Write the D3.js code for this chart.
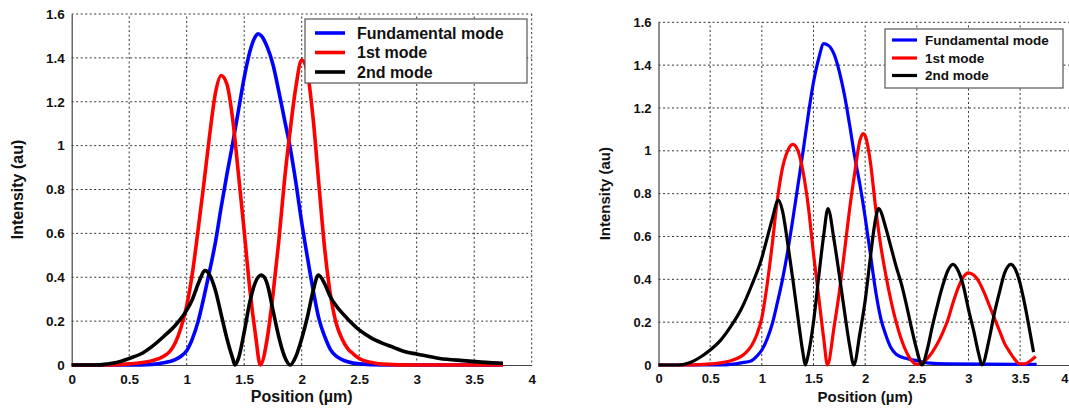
<!DOCTYPE html>
<html>
<head>
<meta charset="utf-8">
<script src="https://cdn.jsdelivr.net/npm/d3@7"></script>
<style>
  body { margin: 0; background: #fff; }
  text { font-family: "Liberation Sans", Arial, sans-serif; font-weight: bold; fill: #111; }
</style>
</head>
<body>
<div id="vis"></div>
<script>
var width = 1069;
var height = 408;

// tick values and labels (shared by both panels)
var xTicks = [0, 0.5, 1, 1.5, 2, 2.5, 3, 3.5, 4];
var xTickLabels = ["0", "0.5", "1", "1.5", "2", "2.5", "3", "3.5", "4"];
var yTicks = [0, 0.2, 0.4, 0.6, 0.8, 1, 1.2, 1.4, 1.6];
var yTickLabels = ["0", "0.2", "0.4", "0.6", "0.8", "1", "1.2", "1.4", "1.6"];

var seriesNames = ["Fundamental mode", "1st mode", "2nd mode"];
var seriesColors = ["#0000ff", "#ff0000", "#000000"];

// left panel: [position (um), intensity (au)]
var leftFund = [[0,0],[0.5,0],[0.7,0.003],[0.8,0.01],[0.9,0.025],[0.95,0.04],[1.0,0.065],[1.05,0.12],[1.1,0.2],[1.15,0.31],[1.2,0.43],
  [1.25,0.56],[1.3,0.72],[1.35,0.87],[1.4,1.01],[1.45,1.16],[1.5,1.31],[1.55,1.43],[1.6,1.5],[1.62,1.51],[1.65,1.5],[1.7,1.45],
  [1.75,1.37],[1.8,1.25],[1.85,1.12],[1.9,0.99],[1.95,0.83],[2.0,0.65],[2.05,0.49],[2.1,0.34],[2.15,0.21],[2.2,0.13],
  [2.25,0.07],[2.3,0.04],[2.35,0.025],[2.4,0.015],[2.5,0.005],[2.7,0],[3.75,0]];
var leftFirst = [[0,0],[0.3,0],[0.5,0.005],[0.6,0.01],[0.7,0.02],[0.8,0.04],[0.85,0.06],[0.9,0.1],[0.95,0.17],[1.0,0.27],
  [1.05,0.42],[1.1,0.62],[1.15,0.83],[1.2,1.05],[1.25,1.24],[1.3,1.32],[1.35,1.28],[1.4,1.12],[1.45,0.87],[1.5,0.61],
  [1.55,0.34],[1.6,0.13],[1.64,0],[1.7,0.12],[1.75,0.32],[1.8,0.56],[1.85,0.84],[1.9,1.07],[1.95,1.27],[2.0,1.39],
  [2.05,1.33],[2.1,1.12],[2.15,0.82],[2.2,0.53],[2.25,0.32],[2.3,0.19],[2.35,0.12],[2.4,0.075],[2.45,0.05],[2.5,0.03],
  [2.6,0.012],[2.7,0.004],[3.0,0],[3.75,0]];
var leftSecond = [[0,0],[0.2,0],[0.3,0.004],[0.4,0.012],[0.5,0.03],[0.6,0.05],[0.7,0.085],[0.8,0.13],[0.9,0.18],[1.0,0.25],
  [1.05,0.3],[1.1,0.37],[1.16,0.43],[1.2,0.41],[1.25,0.34],[1.3,0.23],[1.35,0.12],[1.4,0.03],[1.42,0],[1.45,0.03],
  [1.5,0.15],[1.55,0.29],[1.6,0.38],[1.65,0.41],[1.7,0.37],[1.75,0.25],[1.8,0.13],[1.85,0.04],[1.9,0],[1.95,0.04],
  [2.0,0.12],[2.05,0.22],[2.1,0.34],[2.145,0.41],[2.2,0.37],[2.25,0.31],[2.3,0.27],[2.4,0.21],[2.5,0.16],[2.6,0.125],
  [2.7,0.1],[2.8,0.08],[2.9,0.06],[3.0,0.05],[3.2,0.03],[3.4,0.02],[3.6,0.012],[3.75,0.008]];

// right panel
var rightFund = [[0,0],[0.6,0],[0.7,0.003],[0.8,0.01],[0.9,0.02],[0.95,0.04],[1.0,0.07],[1.05,0.12],[1.1,0.19],[1.15,0.29],
  [1.2,0.4],[1.25,0.53],[1.3,0.68],[1.35,0.84],[1.4,1.0],[1.45,1.17],[1.5,1.32],[1.55,1.43],[1.6,1.5],[1.65,1.49],
  [1.7,1.45],[1.75,1.37],[1.8,1.26],[1.85,1.12],[1.9,0.97],[1.95,0.84],[2.0,0.69],[2.05,0.52],[2.1,0.35],[2.15,0.22],
  [2.2,0.14],[2.25,0.08],[2.3,0.05],[2.4,0.03],[2.5,0.02],[2.6,0.01],[2.8,0.005],[3.66,0.003]];
var rightFirst = [[0,0],[0.3,0],[0.5,0.005],[0.6,0.01],[0.7,0.02],[0.8,0.04],[0.85,0.06],[0.9,0.09],[0.95,0.14],[1.0,0.22],
  [1.05,0.37],[1.1,0.56],[1.15,0.77],[1.2,0.92],[1.25,1.0],[1.3,1.03],[1.35,1.0],[1.4,0.9],[1.45,0.74],[1.5,0.52],
  [1.55,0.32],[1.6,0.12],[1.635,0],[1.7,0.18],[1.75,0.34],[1.8,0.53],[1.85,0.73],[1.9,0.9],[1.95,1.05],[1.98,1.08],
  [2.0,1.07],[2.05,0.95],[2.1,0.74],[2.15,0.56],[2.2,0.42],[2.25,0.3],[2.3,0.2],[2.35,0.12],[2.4,0.06],[2.45,0.02],
  [2.5,0.003],[2.55,0.01],[2.6,0.03],[2.65,0.06],[2.7,0.1],[2.75,0.15],[2.8,0.21],[2.85,0.29],[2.9,0.36],[2.95,0.41],
  [3.0,0.43],[3.05,0.42],[3.1,0.39],[3.15,0.34],[3.2,0.28],[3.25,0.22],[3.3,0.16],[3.35,0.1],[3.4,0.06],[3.45,0.025],
  [3.5,0.005],[3.55,0.005],[3.6,0.02],[3.65,0.04]];
var rightSecond = [[0,0],[0.2,0],[0.3,0.01],[0.4,0.035],[0.5,0.07],[0.6,0.115],[0.7,0.18],[0.8,0.26],[0.9,0.37],[1.0,0.5],
  [1.05,0.59],[1.1,0.68],[1.16,0.77],[1.2,0.72],[1.25,0.57],[1.3,0.4],[1.35,0.22],[1.4,0.05],[1.42,0],[1.45,0.05],
  [1.5,0.2],[1.55,0.41],[1.6,0.61],[1.64,0.73],[1.7,0.58],[1.75,0.42],[1.8,0.25],[1.85,0.09],[1.89,0],[1.95,0.15],
  [2.0,0.3],[2.05,0.5],[2.1,0.68],[2.13,0.73],[2.2,0.64],[2.25,0.55],[2.3,0.46],[2.35,0.38],[2.4,0.28],[2.45,0.17],
  [2.5,0.07],[2.55,0],[2.6,0.07],[2.65,0.18],[2.7,0.28],[2.75,0.37],[2.8,0.44],[2.85,0.47],[2.9,0.44],[2.95,0.37],
  [3.0,0.26],[3.05,0.16],[3.1,0.05],[3.13,0],[3.2,0.12],[3.25,0.24],[3.3,0.34],[3.35,0.43],[3.41,0.47],[3.45,0.45],
  [3.5,0.38],[3.55,0.27],[3.6,0.14],[3.63,0.06]];

var svg = d3.select("#vis")
  .append("svg")
  .attr("width", width)
  .attr("height", height)
  .style("background-color", "white");

var panels = [
  { x0: 71.7, x1: 531.7, y0: 365, y1: 14, lw: 3.6, tickFont: 13.5, labelFont: 16, yLabelX: 17,
    series: [leftFund, leftFirst, leftSecond],
    legend: { x: 305, y: 19, w: 222, h: 64, rows: [33, 52.5, 72], lx0: 315, lx1: 345, tx: 357, font: 16 } },
  { x0: 658.5, x1: 1071.8, y0: 365, y1: 22.3, lw: 3.2, tickFont: 13, labelFont: 15, yLabelX: 605,
    series: [rightFund, rightFirst, rightSecond],
    legend: { x: 885, y: 29, w: 178, h: 59, rows: [40, 58, 75.5], lx0: 892, lx1: 917, tx: 925, font: 13.5 } }
];

panels.forEach(drawPanel);

function drawPanel(p) {
  var xScale = d3.scaleLinear().domain([0, 4]).range([p.x0, p.x1]);
  var yScale = d3.scaleLinear().domain([0, 1.6]).range([p.y0, p.y1]);
  var g = svg.append("g");

  // grid
  g.selectAll(".vgrid").data(xTicks.slice(1, -1)).join("line")
    .attr("x1", d => xScale(d)).attr("x2", d => xScale(d))
    .attr("y1", p.y0).attr("y2", p.y1)
    .attr("stroke", "#333").attr("stroke-width", 1).attr("stroke-dasharray", "2,2.5");
  g.selectAll(".hgrid").data(yTicks.slice(1, -1)).join("line")
    .attr("x1", p.x0).attr("x2", p.x1)
    .attr("y1", d => yScale(d)).attr("y2", d => yScale(d))
    .attr("stroke", "#333").attr("stroke-width", 1).attr("stroke-dasharray", "2,2.5");
  // top / right dotted border like matlab grid
  g.append("line")
    .attr("x1", p.x0).attr("x2", p.x1).attr("y1", p.y1).attr("y2", p.y1)
    .attr("stroke", "#333").attr("stroke-dasharray", "2,2.5");
  g.append("line")
    .attr("x1", p.x1).attr("x2", p.x1).attr("y1", p.y1).attr("y2", p.y0)
    .attr("stroke", "#333").attr("stroke-dasharray", "2,2.5");

  // axes
  var xAxis = d3.axisBottom(xScale).tickValues(xTicks)
    .tickFormat((d, i) => xTickLabels[i]).tickSize(0).tickPadding(9);
  var yAxis = d3.axisLeft(yScale).tickValues(yTicks)
    .tickFormat((d, i) => yTickLabels[i]).tickSize(0).tickPadding(7);

  var ax = g.append("g").attr("transform", `translate(0, ${p.y0})`).call(xAxis);
  var ay = g.append("g").attr("transform", `translate(${p.x0}, 0)`).call(yAxis);
  [ax, ay].forEach(a => {
    a.select(".domain").attr("stroke", "#444").attr("stroke-width", 1.2);
    a.selectAll("text").style("font-size", p.tickFont + "px")
      .style("font-family", "'Liberation Sans', Arial, sans-serif")
      .style("font-weight", "bold").attr("fill", "#111");
  });
  // last x label sits at the page edge on the right panel: keep it inside
  ax.selectAll(".tick").filter(d => xScale(d) + 4 > width)
    .select("text").attr("text-anchor", "end").attr("x", width - xScale(4) - 1);

  // curves
  var line = d3.line()
    .x(d => xScale(d[0]))
    .y(d => yScale(d[1]))
    .curve(d3.curveMonotoneX);

  g.selectAll(".curve").data(p.series).join("path")
    .attr("d", d => line(d))
    .attr("fill", "none")
    .attr("stroke", (d, i) => seriesColors[i])
    .attr("stroke-width", p.lw)
    .attr("stroke-linejoin", "round");

  // axis titles
  g.append("text")
    .attr("x", (p.x0 + p.x1) / 2)
    .attr("y", 402)
    .attr("text-anchor", "middle")
    .style("font-size", p.labelFont + "px")
    .text("Position (\u00b5m)");
  g.append("text")
    .attr("transform", `translate(${p.yLabelX}, ${(p.y0 + p.y1) / 2}) rotate(-90)`)
    .attr("text-anchor", "middle")
    .attr("dy", "0.35em")
    .style("font-size", p.labelFont + "px")
    .text("Intensity (au)");

  // legend
  var L = p.legend;
  g.append("rect")
    .attr("x", L.x).attr("y", L.y).attr("width", L.w).attr("height", L.h)
    .attr("fill", "white").attr("stroke", "#555").attr("stroke-width", 1.2);
  var rows = g.selectAll(".leg").data(seriesNames).join("g");
  rows.append("line")
    .attr("x1", L.lx0).attr("x2", L.lx1)
    .attr("y1", (d, i) => L.rows[i]).attr("y2", (d, i) => L.rows[i])
    .attr("stroke", (d, i) => seriesColors[i]).attr("stroke-width", p.lw);
  rows.append("text")
    .attr("x", L.tx).attr("y", (d, i) => L.rows[i]).attr("dy", "0.36em")
    .style("font-size", L.font + "px")
    .text(d => d);
}
</script>
</body>
</html>
